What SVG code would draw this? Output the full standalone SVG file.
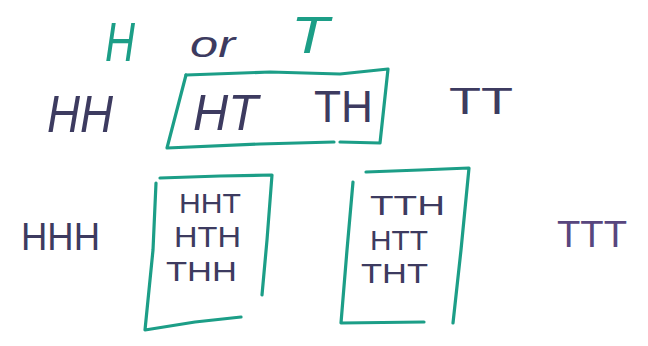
<svg xmlns="http://www.w3.org/2000/svg" width="648" height="346" viewBox="0 0 648 346">
<style>
.g{fill:#1c9e87;font-family:"Liberation Sans",Arial,sans-serif}
.d{fill:#3d3b60;font-family:"Liberation Sans",Arial,sans-serif}
.p{fill:#58467e;font-family:"Liberation Sans",Arial,sans-serif}
.box{fill:none;stroke:#1c9e87;stroke-width:3.2;stroke-linecap:round;stroke-linejoin:round}
</style>
<rect width="648" height="346" fill="#ffffff"/>
<g id="title">
<text class="g" x="105" y="61" font-size="56" textLength="30" lengthAdjust="spacingAndGlyphs" font-style="italic">H</text>
<text class="d" x="190" y="57" font-size="36" textLength="45" lengthAdjust="spacingAndGlyphs" font-style="italic">or</text>
<text class="g" x="291" y="53" font-size="52" textLength="38" lengthAdjust="spacingAndGlyphs" font-style="italic">T</text>
</g>
<g id="row2">
<text class="d" x="47" y="132" font-size="52" textLength="66" lengthAdjust="spacingAndGlyphs" font-style="italic">HH</text>
<g id="box-ht-th">
<polyline class="box" points="186,75 270,72 340,74 388,69 380,143 340,142"/>
<polyline class="box" points="334,142 260,144 167,148 186,75"/>
<text class="d" x="193" y="130" font-size="50" textLength="65" lengthAdjust="spacingAndGlyphs" font-style="italic">HT</text>
<text class="d" x="314" y="122" font-size="44" textLength="59" lengthAdjust="spacingAndGlyphs">TH</text>
</g>
<text class="d" x="449" y="114" font-size="36" textLength="64" lengthAdjust="spacingAndGlyphs">TT</text>
</g>
<g id="row3">
<text class="d" x="21" y="250" font-size="38" textLength="79" lengthAdjust="spacingAndGlyphs">HHH</text>
<g id="box-one-tail">
<polyline class="box" points="156,183 153,250 145,330 195,322 241,317"/>
<polyline class="box" points="160,178 220,176 272,175 267,240 262,295"/>
<text class="d" x="179" y="213" font-size="28" textLength="62" lengthAdjust="spacingAndGlyphs">HHT</text>
<text class="d" x="174" y="247" font-size="29" textLength="67" lengthAdjust="spacingAndGlyphs">HTH</text>
<text class="d" x="166" y="281" font-size="28" textLength="71" lengthAdjust="spacingAndGlyphs">THH</text>
</g>
<g id="box-two-tails">
<polyline class="box" points="353,182 347,250 341,323 424,322"/>
<polyline class="box" points="366,172 420,170 469,168 461,250 453,323"/>
<text class="d" x="370" y="215" font-size="27" textLength="75" lengthAdjust="spacingAndGlyphs">TTH</text>
<text class="d" x="370" y="250" font-size="28" textLength="58" lengthAdjust="spacingAndGlyphs">HTT</text>
<text class="d" x="361" y="283" font-size="28" textLength="67" lengthAdjust="spacingAndGlyphs">THT</text>
</g>
<text class="p" x="557" y="247" font-size="37" textLength="70" lengthAdjust="spacingAndGlyphs">TTT</text>
</g>
</svg>
